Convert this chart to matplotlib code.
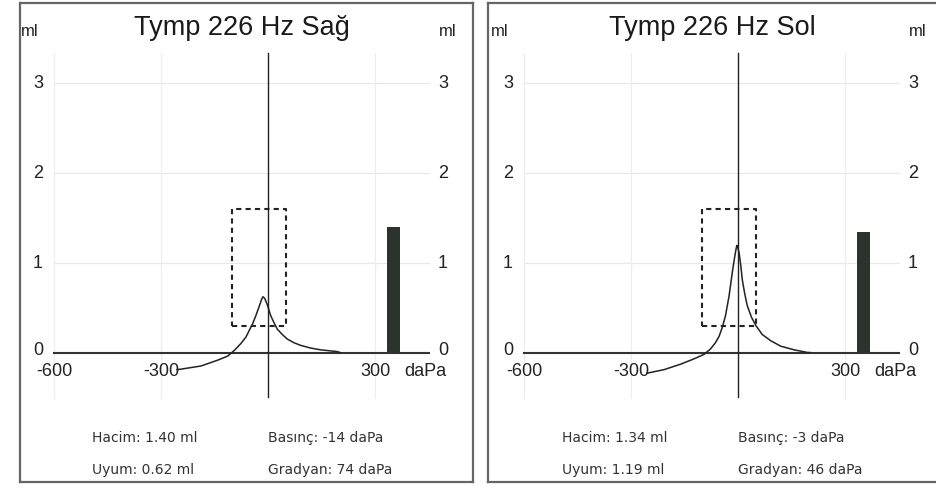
import numpy as np
import matplotlib
matplotlib.use('Agg')
import matplotlib.pyplot as plt

# pressure (daPa) / compliance (ml)
right_x = [-255, -244, -188, -141, -113, -94, -76, -62, -52, -43, -34, -24, -18, -14,
           -9, -1, 7.5, 17, 26, 40, 54, 72, 91, 119, 147, 194, 202]
right_y = [-0.19, -0.185, -0.15, -0.085, -0.04, 0.025, 0.10, 0.17, 0.25, 0.32, 0.41, 0.52, 0.59, 0.62,
           0.60, 0.52, 0.41, 0.33, 0.26, 0.20, 0.15, 0.11, 0.08, 0.05, 0.03, 0.01, 0.0]

left_x = [-255, -207, -161, -123, -95, -77, -63, -53, -44, -35, -25, -16, -9, -5, -3,
          -1, 3, 8, 12, 19, 26, 38, 50, 68, 92, 120, 157, 195, 202]
left_y = [-0.23, -0.19, -0.13, -0.07, -0.02, 0.04, 0.11, 0.18, 0.28, 0.41, 0.63, 0.89, 1.07, 1.16, 1.19,
          1.17, 1.11, 0.96, 0.81, 0.65, 0.52, 0.39, 0.30, 0.20, 0.13, 0.07, 0.03, 0.0, 0.0]

titles = ['Tymp 226 Hz Sağ', 'Tymp 226 Hz Sol']
volumes = [1.40, 1.34]
compliances = [0.62, 1.19]
pressures = [-14, -3]
gradients = [74, 46]

yticks = [0, 1, 2, 3]
xtick_vals = [-600, -300, 300]
xtick_labels = ['-600', '-300', '300']
box_x = [-100, 50]
box_y = [0.3, 1.6]
bar_pos = 352
bar_w = 36

W, H = 936, 489
fig = plt.figure(figsize=(W / 100, H / 100), dpi=100)
fig.patch.set_facecolor('white')

k = 107 / 300.0   # px per daPa
panels = [(20, 473, 268), (488, 938, 738)]  # left px, right px, zero px
top_px, bot_px, zero_py = 4, 483, 353.5
ppm = 90.0  # px per ml

curves = [(right_x, right_y), (left_x, left_y)]
numfont = dict(family='Liberation Sans', fontsize=13, color='#222222')

for i, (x0, x1, z) in enumerate(panels):
    ax = fig.add_axes([x0 / W, (H - bot_px) / H, (x1 - x0) / W, (bot_px - top_px) / H])
    ax.set_xlim((x0 - z) / k, (x1 - z) / k)
    ax.set_ylim((zero_py - bot_px) / ppm, (zero_py - top_px) / ppm)
    ax.set_xticks([])
    ax.set_yticks([])
    for s in ax.spines.values():
        s.set_color('#666666')
        s.set_linewidth(1.6)

    # grid
    for yv in yticks[1:]:
        ax.plot([-600, 450], [yv, yv], color='#e8e8e8', lw=0.9, zorder=1)
    for xv in [-600, -300, 300]:
        ax.plot([xv, xv], [-0.5, 3.33], color='#eeeeee', lw=0.9, zorder=1)

    # axes lines
    ax.plot([-600, 450], [0, 0], color='#333333', lw=1.5, zorder=3)
    ax.plot([0, 0], [-0.49, 3.33], color='#222222', lw=1.0, zorder=3)

    # normal region box
    ax.plot([box_x[0], box_x[1], box_x[1], box_x[0], box_x[0]],
            [box_y[0], box_y[0], box_y[1], box_y[1], box_y[0]],
            color='#222222', lw=1.5, ls=(0, (2.5, 2.0)), zorder=4)

    # curve
    cx, cy = curves[i]
    ax.plot(cx, cy, color='#222222', lw=1.1, zorder=5,
            solid_joinstyle='round')

    # volume bar
    ax.bar(bar_pos, volumes[i], width=bar_w, color='#2b332c', zorder=4)

    # labels
    for yv in yticks:
        yy = yv + (0.03 if yv == 0 else 0)
        ax.text(-645, yy, str(yv), ha='center', va='center', **numfont)
        ax.text(491, yy, str(yv), ha='center', va='center', **numfont)
    for xv, lab in zip(xtick_vals, xtick_labels):
        ax.text(xv, -0.2, lab, ha='center', va='center', zorder=2, **numfont)
    ax.text(440, -0.2, 'daPa', ha='center', va='center', **numfont)

    ax.text(-692, 3.58, 'ml', ha='left', va='center', family='Liberation Sans',
            fontsize=12, color='#222222')
    ax.text(505, 3.58, 'ml', ha='center', va='center', family='Liberation Sans',
            fontsize=12, color='#222222')
    ax.text(-72, 3.62, titles[i], ha='center', va='center', family='Liberation Sans',
            fontsize=19.5, color='#1a1a1a')

    stat = dict(family='DejaVu Sans', fontsize=10, color='#333333', ha='left', va='center')
    ax.text(-493, -0.94, 'Hacim: %.2f ml' % volumes[i], **stat)
    ax.text(-493, -1.29, 'Uyum: %.2f ml' % compliances[i], **stat)
    ax.text(0, -0.94, 'Basınç: %d daPa' % pressures[i], **stat)
    ax.text(0, -1.29, 'Gradyan: %d daPa' % gradients[i], **stat)

fig.savefig('out.png', dpi=100)
